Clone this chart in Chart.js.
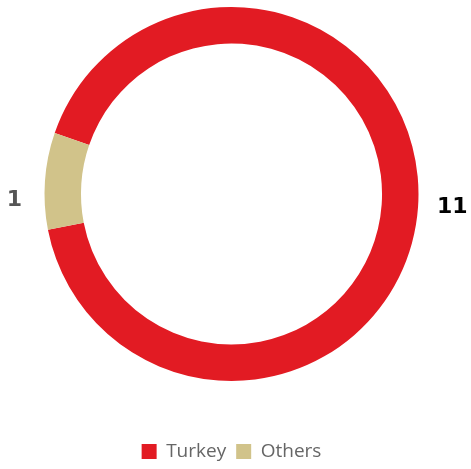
<!DOCTYPE html>
<html>
<head>
<meta charset="utf-8">
<script src="https://cdn.jsdelivr.net/npm/chart.js@4"></script>
<style>
  html, body { margin: 0; padding: 0; background: #fff; }
  #wrap { width: 471px; height: 469px; }
</style>
</head>
<body>
<div id="wrap"><canvas id="paisesChart"></canvas></div>
<script>
// Datos del gráfico
const paises = ['Turkey', 'Others'];
const valores = [11, 1];
const colores = ['#E21B23', '#D1C38A'];
const coloresEtiqueta = ['#000000', '#555555'];

// Etiquetas de valor fuera del anillo
const etiquetasValor = {
    id: 'etiquetasValor',
    afterDatasetsDraw(chart) {
        const ctx = chart.ctx;
        const meta = chart.getDatasetMeta(0);
        ctx.save();
        ctx.font = 'bold 22px "DejaVu Sans"';
        ctx.textBaseline = 'middle';
        meta.data.forEach((arc, i) => {
            const p = arc.getProps(['x', 'y', 'startAngle', 'endAngle', 'outerRadius'], true);
            const mid = (p.startAngle + p.endAngle) / 2;
            const derecha = Math.cos(mid) > 0;
            const x = p.x + Math.cos(mid) * (p.outerRadius + (derecha ? 19 : 23));
            const y = p.y + (derecha ? 13 : 6);
            ctx.textAlign = derecha ? 'left' : 'right';
            ctx.fillStyle = coloresEtiqueta[i];
            ctx.fillText(String(valores[i]), x, y);
        });
        ctx.restore();
    }
};

const ctx = document.getElementById('paisesChart').getContext('2d');
new Chart(ctx, {
    type: 'doughnut',
    data: {
        labels: paises,
        datasets: [{
            data: valores,
            backgroundColor: colores,
            borderWidth: 0
        }]
    },
    options: {
        responsive: true,
        maintainAspectRatio: false,
        animation: false,
        cutout: '80.5%',
        rotation: -71,
        layout: {
            padding: { top: 7, left: 44, right: 52, bottom: -2 }
        },
        plugins: {
            tooltip: { enabled: false },
            legend: {
                position: 'bottom',
                title: {
                    display: true,
                    text: '',
                    padding: { top: 50, bottom: 0 },
                    font: { size: 1, lineHeight: 1 }
                },
                labels: {
                    boxWidth: 15,
                    boxHeight: 15,
                    padding: 10,
                    color: '#666666',
                    font: { family: '"Open Sans"', size: 19 }
                }
            }
        }
    },
    plugins: [etiquetasValor]
});
</script>
</body>
</html>
